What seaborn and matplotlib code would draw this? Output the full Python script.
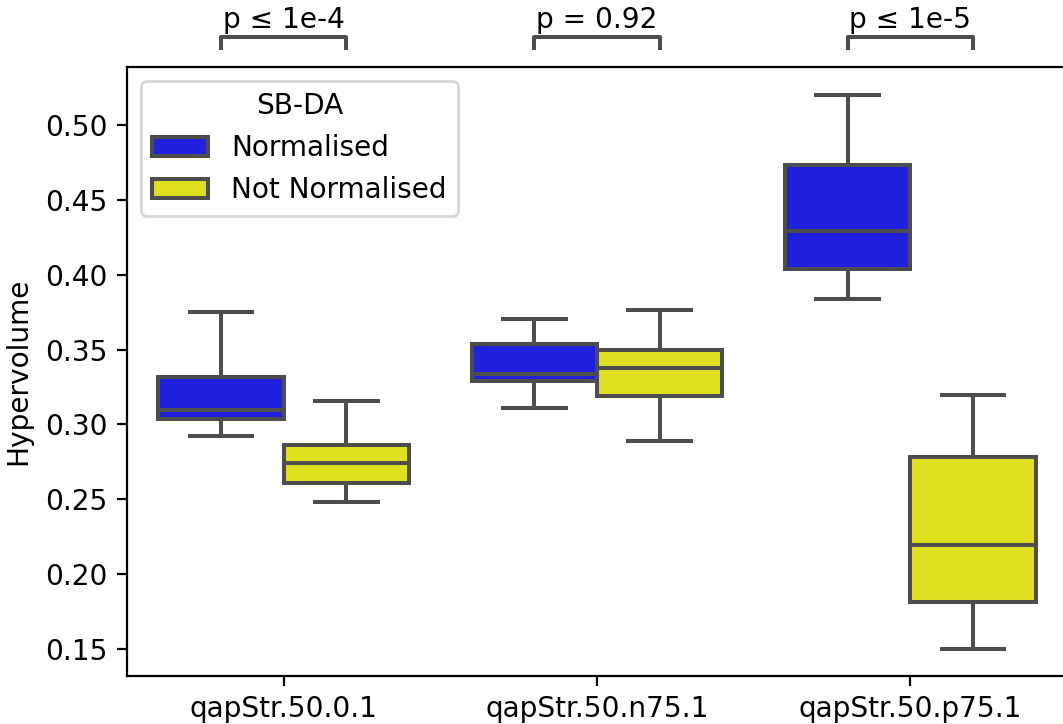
import matplotlib
matplotlib.use("Agg")
import matplotlib.pyplot as plt
import seaborn as sns
import pandas as pd

# --- data (five-number summaries: min, Q1, median, Q3, max) ---
instances = ["qapStr.50.0.1", "qapStr.50.n75.1", "qapStr.50.p75.1"]
groups = ["Normalised", "Not Normalised"]
normalised = [
    [0.292, 0.3036, 0.3096, 0.332, 0.375],
    [0.311, 0.329, 0.3337, 0.3537, 0.3704],
    [0.3838, 0.4038, 0.4292, 0.4733, 0.520],
]
not_normalised = [
    [0.2482, 0.2609, 0.2742, 0.2863, 0.3157],
    [0.289, 0.319, 0.3377, 0.3497, 0.3764],
    [0.150, 0.1814, 0.2195, 0.2783, 0.3197],
]
p_labels = ["p ≤ 1e-4", "p = 0.92", "p ≤ 1e-5"]

rows = []
for inst, a, b in zip(instances, normalised, not_normalised):
    for v in a:
        rows.append({"instance": inst, "SB-DA": groups[0], "Hypervolume": v})
    for v in b:
        rows.append({"instance": inst, "SB-DA": groups[1], "Hypervolume": v})
df = pd.DataFrame(rows)

FS = 10.1
DPI = 200
fig = plt.figure(figsize=(1063 / DPI, 724 / DPI), dpi=DPI)
ax = fig.add_axes([127 / 1063, 48 / 724, 940 / 1063, 609 / 724])

LC = "#4d4d4d"
LW = 1.45
sns.boxplot(data=df, x="instance", y="Hypervolume", hue="SB-DA",
            order=instances, hue_order=groups,
            palette=["blue", "yellow"], saturation=0.75,
            whis=(0, 100), width=0.8, linewidth=LW, linecolor=LC, ax=ax)

ax.set_ylim(0.132, 0.5387)
ax.set_xlim(-0.5, 2.5)
ax.set_yticks([0.15, 0.20, 0.25, 0.30, 0.35, 0.40, 0.45, 0.50])
ax.set_yticklabels([f"{t:.2f}" for t in ax.get_yticks()])
ax.tick_params(labelsize=FS, length=3.5, width=0.8, pad=3.5)
ax.set_xlabel("")
ax.set_ylabel("Hypervolume", fontsize=FS, labelpad=4.5)
for s in ax.spines.values():
    s.set_linewidth(0.8)

# significance brackets above the axes
for i, lab in enumerate(p_labels):
    x1, x2 = i - 0.2, i + 0.2
    ax.plot([x1, x1, x2, x2], [0.550, 0.5588, 0.5588, 0.550], color=LC,
            lw=LW, clip_on=False, solid_capstyle="butt")
    ax.text(i, 0.5608, lab, ha="center", va="bottom", fontsize=FS, clip_on=False)

sns.move_legend(ax, "upper left", fontsize=FS, title_fontsize=FS,
                title="SB-DA", frameon=True)

fig.savefig("out.png", dpi=DPI)
